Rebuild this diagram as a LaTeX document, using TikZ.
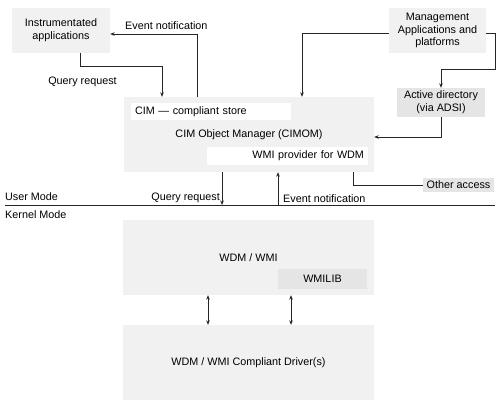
\documentclass[tikz,border=0pt]{standalone}
\usepackage{fontspec}
\setmainfont{Liberation Sans}
\usetikzlibrary{arrows.meta,positioning,calc}

\begin{document}
\begin{tikzpicture}[
    x=1pt, y=-1pt,
    >={Stealth[length=4.5pt,width=3.6pt]},
    font=\fontsize{10.8}{12.8}\selectfont,
    lbox/.style={
        fill=gray!11,
        inner sep=0pt,
        align=center
    },
    dbox/.style={
        fill=gray!20,
        inner sep=0pt,
        align=center
    },
    wbox/.style={
        fill=white,
        inner sep=0pt,
        inner xsep=4pt
    },
    arr/.style={->, draw=black!85, line width=0.8pt},
    dbl/.style={<->, draw=black!85, line width=0.8pt},
    line/.style={draw=black!85, line width=0.8pt}
]
\useasboundingbox (0,0) rectangle (500,409);

% user mode
\node[lbox, minimum width=98, minimum height=45] (inst) at (61,30.5)
{Instrumentated\\applications};

\node[lbox, minimum width=97, minimum height=45] (mgmt) at (437.5,30.5)
{Management\\Applications and\\platforms};

\node[dbox, minimum width=88, minimum height=29] (adsi) at (441,102.5)
{Active directory\\(via ADSI)};

\node[lbox, minimum width=250, minimum height=75] (cimom) at (249,134.5)
{CIM Object Manager (CIMOM)};

\node[wbox, minimum width=160, minimum height=17, text width=152,
      align=left] (store) at (211,111.5)
{CIM --- compliant store};

\node[wbox, minimum width=161, minimum height=18, text width=153,
      align=right] (prov) at (287.5,156)
{WMI provider for WDM};

\node[dbox, minimum width=71, minimum height=14] (other) at (458.5,185)
{Other access};

% mode line
\coordinate (ml) at (5,205);
\coordinate (mr) at (495,205);
\draw[line] (ml) -- (mr);
\node[anchor=south west, inner sep=0pt, yshift=4pt] (user) at (ml) {User Mode};
\node[anchor=north west, inner sep=0pt, yshift=-5pt] (kernel) at (ml) {Kernel Mode};

% kernel mode
\node[lbox, minimum width=251, minimum height=75] (wdm) at (248.5,257.5)
{WDM / WMI};

\node[dbox, minimum width=89, minimum height=20] (wmilib) at (322.5,279)
{WMILIB};

\node[lbox, minimum width=251, minimum height=75] (drv) at (248.5,362.5)
{WDM / WMI Compliant Driver(s)};

% connectors
\coordinate (evup) at (197,34);
\draw[arr] (cimom.north -| evup) |- (inst.east |- evup);
\node[anchor=west, inner sep=0pt] (evlab) at (125,26) {Event notification};

\coordinate (q1) at (80,66);
\coordinate (q2) at (162,66);
\draw[arr] (inst.south -| q1) -- (q1) -- (q2) -- (cimom.north -| q2);
\node (qlab) at (82.5,82) {Query request};

\coordinate (m1) at (302,33);
\coordinate (m2) at (495,69);
\draw[arr] (mgmt.west |- m1) -| (cimom.north -| m1);
\draw[arr] (mgmt.east |- m1) -| (m2) -| (adsi.north);
\draw[arr] (adsi.south) |- ($(cimom.east)+(0,2.5)$);

\coordinate (qd) at (222,205);
\coordinate (eu) at (278,205);
\draw[arr] (cimom.south -| qd) -- (qd);
\draw[arr] (eu) -- (cimom.south -| eu);
\node[anchor=south east, inner sep=2pt] (qdlab) at (qd) {Query request};
\node[anchor=south west, inner sep=2pt, xshift=3pt] (eulab) at (eu) {Event notification};

\coordinate (o1) at (353,185);
\draw[line] (cimom.south -| o1) |- (other.west);

\coordinate (d1) at (208,310);
\coordinate (d2) at (291,310);
\foreach \d in {d1,d2}
    \draw[dbl] (wdm.south -| \d) -- (drv.north -| \d);

\end{tikzpicture}
\end{document}
